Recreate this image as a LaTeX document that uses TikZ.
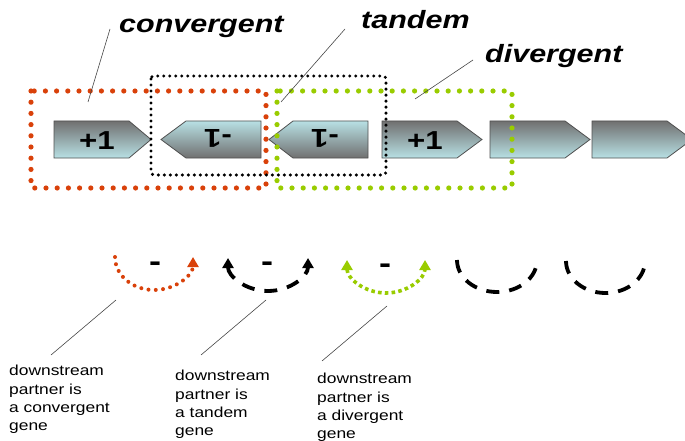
\documentclass[tikz,border=0pt]{standalone}
\usepackage{fontspec}
\setmainfont[FakeStretch=1.2]{Liberation Sans}
\newfontfamily\titlefont[FakeStretch=1.22]{Liberation Sans}
\usetikzlibrary{arrows.meta,calc}
\definecolor{cred}{RGB}{217,65,10}
\definecolor{cgreen}{RGB}{153,204,0}
\definecolor{gdark}{RGB}{112,112,112}
\definecolor{glight}{RGB}{184,224,228}
\definecolor{gborder}{RGB}{80,80,80}
\definecolor{leader}{RGB}{70,70,70}
\begin{document}
\begin{tikzpicture}[x=1pt,y=-1pt,
  generight/.style={top color=gdark,bottom color=glight,draw=gborder,line width=0.8pt},
  geneleft/.style={top color=glight,bottom color=gdark,draw=gborder,line width=0.8pt},
  genelabel/.style={font=\fontsize{26}{26}\selectfont\bfseries,inner sep=0pt},
  titlelabel/.style={font=\titlefont\fontsize{25}{25}\selectfont\bfseries\itshape,inner sep=0pt,anchor=base west},
  notelabel/.style={font=\fontsize{14.5}{18.3}\selectfont,align=left,anchor=north west,inner sep=0pt},
  minuslabel/.style={font=\fontsize{30}{30}\selectfont\bfseries,inner sep=0pt},
  leaderline/.style={draw=leader,line width=0.6pt},
  bigdots/.style={line width=5.2pt,line cap=round,dash pattern=on 0pt off 11.2pt},
  smalldots/.style={line width=3.4pt,line cap=round,dash pattern=on 0pt off 6pt},
  reddotarc/.style={draw=cred,line width=4pt,line cap=round,dash pattern=on 0pt off 7.3pt},
  greenarc/.style={draw=cgreen,line width=3.6pt,dash pattern=on 3.6pt off 3.2pt},
  blackarc/.style={draw=black,line width=3.8pt,dash pattern=on 13pt off 10pt},
  tipR/.style={-{Triangle[length=10pt,width=11pt]}},
  tipLR/.style={{Triangle[length=10pt,width=11pt]}-{Triangle[length=10pt,width=11pt]}},
]
\useasboundingbox (0,0) rectangle (685,441);
\clip (0,0) rectangle (685,441);

% genes
\shade[generight] (54,121) -- (129,121) -- (151,139.5) -- (129,158) -- (54,158) -- cycle;
\shade[geneleft] (161,139.5) -- (186,121) -- (261,121) -- (261,158) -- (186,158) -- cycle;
\shade[geneleft] (269,139.5) -- (293,121) -- (368,121) -- (368,158) -- (293,158) -- cycle;
\shade[generight] (382,121) -- (457,121) -- (482,139.5) -- (457,158) -- (382,158) -- cycle;
\shade[generight] (490,121) -- (565,121) -- (590,139.5) -- (565,158) -- (490,158) -- cycle;
\shade[generight] (592,121) -- (667,121) -- (692,139.5) -- (667,158) -- (592,158) -- cycle;

\node[genelabel] (g1) at (97,141) {+1};
\node[genelabel,rotate=180] (g2) at (218,138) {-1};
\node[genelabel,rotate=180] (g3) at (325,138) {-1};
\node[genelabel] (g4) at (425,141) {+1};

% dotted boxes
\draw[bigdots,draw=cred] (31,91) rectangle (266,188);
\draw[bigdots,draw=cgreen] (277,91) rectangle (512,188);
\draw[smalldots,draw=black,rounded corners=3pt] (151,76) rectangle (386,175);

% titles
\node[titlelabel] (tconv) at (119,33) {convergent};
\node[titlelabel] (ttand) at (361,29) {tandem};
\node[titlelabel] (tdiv) at (485,63) {divergent};

\coordinate (c1a) at (110,29);
\coordinate (c1b) at (88,102);
\coordinate (c2a) at (345,29);
\coordinate (c2b) at (281,102);
\coordinate (c3a) at (473,60);
\coordinate (c3b) at (415,99);
\draw[leaderline] (c1a) -- (c1b);
\draw[leaderline] (c2a) -- (c2b);
\draw[leaderline] (c3a) -- (c3b);

% arcs
\draw[reddotarc,tipR] (115,257) arc[start angle=180,end angle=0,x radius=39,y radius=33];
\draw[blackarc,tipLR] (228,258) arc[start angle=180,end angle=0,x radius=40,y radius=33];
\draw[greenarc,tipLR] (347,260) arc[start angle=180,end angle=0,x radius=39,y radius=33];
\draw[blackarc] (457,260) arc[start angle=180,end angle=0,x radius=40,y radius=32];
\draw[blackarc] (566,261) arc[start angle=180,end angle=0,x radius=39.5,y radius=32];

\node[minuslabel] (m1) at (155,267) {-};
\node[minuslabel] (m2) at (267,267) {-};
\node[minuslabel] (m3) at (385,269) {-};

% notes
\node[notelabel] (n1) at (9,365) {downstream\\partner is\\a convergent\\gene};
\node[notelabel] (n2) at (175,370) {downstream\\partner is\\a tandem\\gene};
\node[notelabel] (n3) at (317,373) {downstream\\partner is\\a divergent\\gene};

\coordinate (d1a) at (116,300);
\coordinate (d1b) at (51,355);
\coordinate (d2a) at (266,300);
\coordinate (d2b) at (201,355);
\coordinate (d3a) at (387,306);
\coordinate (d3b) at (322,361);
\draw[leaderline] (d1a) -- (d1b);
\draw[leaderline] (d2a) -- (d2b);
\draw[leaderline] (d3a) -- (d3b);
\end{tikzpicture}
\end{document}
